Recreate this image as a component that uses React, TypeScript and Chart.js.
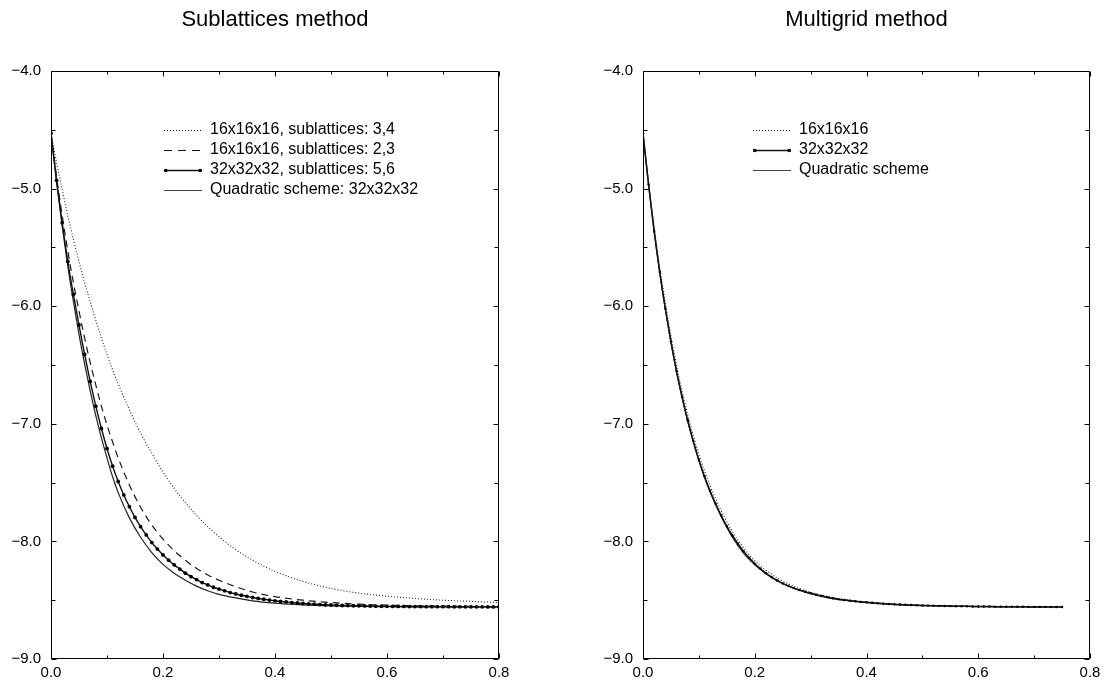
import React, { useEffect, useRef } from 'react';
import { Chart, registerables } from 'chart.js';

Chart.register(...registerables);

const FONT = '"Liberation Sans", Arial, Helvetica, sans-serif';

// ---------- texts ----------
const LEFT_TITLE = 'Sublattices method';
const RIGHT_TITLE = 'Multigrid method';
const LEFT_LABELS = [
  '16x16x16, sublattices: 3,4',
  '16x16x16, sublattices: 2,3',
  '32x32x32, sublattices: 5,6',
  'Quadratic scheme: 32x32x32',
];
const RIGHT_LABELS = ['16x16x16', '32x32x32', 'Quadratic scheme'];

// ---------- axes ----------
const X_MIN = 0;
const X_MAX = 0.8;
const Y_MIN = -9;
const Y_MAX = -4;
const X_TICK_MARKS = [0, 0.1, 0.2, 0.3, 0.4, 0.5, 0.6, 0.7, 0.8];
const Y_TICK_MARKS = [-9, -8.5, -8, -7.5, -7, -6.5, -6, -5.5, -5, -4.5, -4];

// ---------- left panel data ----------
const L_X_COARSE = [
  0, 0.01, 0.02, 0.03, 0.04, 0.05, 0.06, 0.07, 0.08, 0.09, 0.1, 0.11, 0.12,
  0.14, 0.16, 0.18, 0.2, 0.22, 0.24, 0.26, 0.28, 0.3, 0.33, 0.36, 0.4, 0.45,
  0.5, 0.55, 0.6, 0.65, 0.7, 0.75, 0.8,
];
const L_SUB34 = [
  -4.53, -4.78, -5.01, -5.23, -5.43, -5.62, -5.8, -5.96, -6.12, -6.27, -6.41, -6.54, -6.66,
  -6.88, -7.08, -7.25, -7.41, -7.55, -7.67, -7.78, -7.875, -7.96, -8.07, -8.16, -8.255, -8.34,
  -8.4, -8.44, -8.465, -8.485, -8.5, -8.51, -8.52,
];
const L_SUB23 = [
  -4.53, -4.9, -5.23, -5.53, -5.8, -6.04, -6.27, -6.48, -6.67, -6.85, -7.01, -7.155, -7.29,
  -7.52, -7.71, -7.86, -7.98, -8.08, -8.16, -8.23, -8.285, -8.33, -8.385, -8.43, -8.47, -8.5,
  -8.52, -8.534, -8.542, -8.547, -8.55, -8.553, -8.555,
];
const L_QUAD = [
  -4.53, -4.95, -5.32, -5.66, -5.96, -6.24, -6.49, -6.72, -6.93, -7.12, -7.29, -7.45, -7.585,
  -7.8, -7.965, -8.095, -8.195, -8.27, -8.33, -8.38, -8.42, -8.45, -8.48, -8.505, -8.525, -8.54,
  -8.548, -8.552, -8.555, -8.556, -8.557, -8.558, -8.558,
];
const L_X_FINE = [
  0, 0.01, 0.02, 0.03, 0.04, 0.05, 0.06, 0.07, 0.08, 0.09,
  0.1, 0.11, 0.12, 0.13, 0.14, 0.15, 0.16, 0.17, 0.18, 0.19,
  0.2, 0.21, 0.22, 0.23, 0.24, 0.25, 0.26, 0.27, 0.28, 0.29,
  0.3, 0.31, 0.32, 0.33, 0.34, 0.35, 0.36, 0.37, 0.38, 0.39,
  0.4, 0.41, 0.42, 0.43, 0.44, 0.45, 0.46, 0.47, 0.48, 0.49,
  0.5, 0.51, 0.52, 0.53, 0.54, 0.55, 0.56, 0.57, 0.58, 0.59,
  0.6, 0.61, 0.62, 0.63, 0.64, 0.65, 0.66, 0.67, 0.68, 0.69,
  0.7, 0.71, 0.72, 0.73, 0.74, 0.75, 0.76, 0.77, 0.78, 0.79,
  0.8,
];
const L_SUB56 = [
  -4.53, -4.93, -5.29, -5.62, -5.9, -6.16, -6.41, -6.64, -6.85, -7.04,
  -7.21, -7.36, -7.49, -7.605, -7.705, -7.795, -7.875, -7.945, -8.01, -8.065,
  -8.115, -8.16, -8.2, -8.235, -8.27, -8.3, -8.325, -8.35, -8.37, -8.39,
  -8.405, -8.42, -8.435, -8.447, -8.458, -8.468, -8.477, -8.485, -8.492, -8.499,
  -8.505, -8.51, -8.515, -8.52, -8.524, -8.528, -8.531, -8.534, -8.537, -8.539,
  -8.541, -8.543, -8.545, -8.546, -8.547, -8.548, -8.549, -8.55, -8.551, -8.552,
  -8.552, -8.553, -8.553, -8.553, -8.554, -8.554, -8.554, -8.555, -8.555, -8.555,
  -8.555, -8.555, -8.556, -8.556, -8.556, -8.556, -8.556, -8.556, -8.557, -8.557,
  -8.557,
];

// ---------- right panel data ----------
const R_X_COARSE = [
  0, 0.01, 0.02, 0.03, 0.04, 0.05, 0.06, 0.07, 0.08, 0.09, 0.1, 0.11, 0.12,
  0.14, 0.16, 0.18, 0.2, 0.22, 0.24, 0.26, 0.28, 0.3, 0.33, 0.36, 0.4, 0.45,
  0.5, 0.55, 0.6, 0.65, 0.7, 0.75,
];
const R_16 = [
  -4.53, -4.95, -5.33, -5.67, -5.97, -6.25, -6.5, -6.72, -6.92, -7.1, -7.26, -7.4, -7.525,
  -7.74, -7.915, -8.055, -8.165, -8.245, -8.31, -8.36, -8.4, -8.432, -8.467, -8.492, -8.515, -8.533,
  -8.543, -8.549, -8.552, -8.554, -8.555, -8.556,
];
const R_QUAD = [
  -4.53, -4.97, -5.37, -5.72, -6.03, -6.31, -6.56, -6.78, -6.98, -7.155, -7.315, -7.455, -7.58,
  -7.79, -7.965, -8.1, -8.2, -8.275, -8.335, -8.38, -8.415, -8.445, -8.478, -8.5, -8.52, -8.537,
  -8.546, -8.551, -8.554, -8.556, -8.557, -8.558,
];
const R_X_FINE = [
  0, 0.01, 0.02, 0.03, 0.04, 0.05, 0.06, 0.07, 0.08, 0.09,
  0.1, 0.11, 0.12, 0.13, 0.14, 0.15, 0.16, 0.17, 0.18, 0.19,
  0.2, 0.21, 0.22, 0.23, 0.24, 0.25, 0.26, 0.27, 0.28, 0.29,
  0.3, 0.31, 0.32, 0.33, 0.34, 0.35, 0.36, 0.37, 0.38, 0.39,
  0.4, 0.41, 0.42, 0.43, 0.44, 0.45, 0.46, 0.47, 0.48, 0.49,
  0.5, 0.51, 0.52, 0.53, 0.54, 0.55, 0.56, 0.57, 0.58, 0.59,
  0.6, 0.61, 0.62, 0.63, 0.64, 0.65, 0.66, 0.67, 0.68, 0.69,
  0.7, 0.71, 0.72, 0.73, 0.74, 0.75,
];
const R_32 = [
  -4.53, -4.965, -5.36, -5.71, -6.02, -6.3, -6.55, -6.77, -6.97, -7.145,
  -7.305, -7.445, -7.57, -7.68, -7.78, -7.87, -7.95, -8.02, -8.085, -8.14,
  -8.19, -8.232, -8.27, -8.303, -8.332, -8.357, -8.378, -8.397, -8.413, -8.428,
  -8.441, -8.453, -8.464, -8.474, -8.483, -8.491, -8.498, -8.504, -8.509, -8.514,
  -8.518, -8.522, -8.526, -8.529, -8.532, -8.535, -8.537, -8.539, -8.541, -8.543,
  -8.545, -8.546, -8.547, -8.548, -8.549, -8.55, -8.551, -8.552, -8.552, -8.553,
  -8.553, -8.554, -8.554, -8.555, -8.555, -8.555, -8.556, -8.556, -8.556, -8.557,
  -8.557, -8.557, -8.557, -8.558, -8.558, -8.558,
];

const toPoints = (xs: number[], ys: number[]) => xs.map((x, i) => ({ x, y: ys[i] }));

type SampleKind = 'dotted' | 'dashed' | 'solid' | 'markers';

function makeSample(kind: SampleKind, w: number, h: number): HTMLCanvasElement {
  const c = document.createElement('canvas');
  c.width = w;
  c.height = h;
  const g = c.getContext('2d')!;
  g.strokeStyle = kind === 'solid' ? '#444' : '#111';
  g.fillStyle = '#000';
  g.lineWidth = kind === 'markers' ? 1.3 : 1;
  const yy = Math.floor(h / 2) + 0.5;
  if (kind === 'dotted') g.setLineDash([1, 2]);
  if (kind === 'dashed') g.setLineDash([8, 6]);
  g.beginPath();
  g.moveTo(0, yy);
  g.lineTo(w, yy);
  g.stroke();
  if (kind === 'markers') {
    g.setLineDash([]);
    g.beginPath();
    g.arc(1.8, yy, 1.8, 0, Math.PI * 2);
    g.arc(w - 1.8, yy, 1.8, 0, Math.PI * 2);
    g.fill();
  }
  return c;
}

const framePlugin = {
  id: 'frameTicks',
  afterDatasetsDraw(chart: any) {
    const { ctx, chartArea: a, scales } = chart;
    const sx = scales.x;
    const sy = scales.y;
    ctx.save();
    ctx.strokeStyle = '#000';
    ctx.lineWidth = 1;
    const L = Math.round(a.left) + 0.5;
    const R = Math.round(a.right) - 0.5;
    const T = Math.round(a.top) + 0.5;
    const B = Math.round(a.bottom) - 0.5;
    ctx.beginPath();
    ctx.rect(L, T, R - L, B - T);
    ctx.stroke();
    ctx.beginPath();
    X_TICK_MARKS.forEach((v, i) => {
      const px = Math.round(sx.getPixelForValue(v)) + 0.5;
      const len = i % 2 === 0 ? 5 : 3;
      ctx.moveTo(px, B);
      ctx.lineTo(px, B - len);
      ctx.moveTo(px, T);
      ctx.lineTo(px, T + len);
    });
    Y_TICK_MARKS.forEach((v) => {
      const py = Math.round(sy.getPixelForValue(v)) + 0.5;
      const len = Number.isInteger(v) ? 5 : 4;
      ctx.moveTo(L, py);
      ctx.lineTo(L + len, py);
      ctx.moveTo(R, py);
      ctx.lineTo(R - len, py);
    });
    ctx.stroke();
    ctx.restore();
  },
};

const legendPosPlugin = {
  id: 'legendPos',
  afterLayout(chart: any, _args: any, opts: any) {
    const lg = chart.legend;
    if (!lg) return;
    const pad = chart.options.plugins.legend.labels.padding;
    const fs = chart.options.plugins.legend.labels.font.size;
    lg.left = opts.x - pad;
    lg.top = opts.y - fs / 2 - pad;
    lg.right = lg.left + lg.width;
    lg.bottom = lg.top + lg.height;
  },
};

function makeConfig(p: {
  title: string;
  datasets: any[];
  legendItems: { text: string; kind: SampleKind }[];
  yAxisWidth: number;
  padRight: number;
  legendX: number;
  legendY: number;
}): any {
  const samples = p.legendItems.map((it) => makeSample(it.kind, 38, 8));
  return {
    type: 'line',
    data: { datasets: p.datasets },
    plugins: [framePlugin, legendPosPlugin],
    options: {
      responsive: false,
      animation: false,
      events: [],
      layout: { padding: { left: 0, right: p.padRight, top: 0, bottom: 0 } },
      scales: {
        x: {
          type: 'linear',
          min: X_MIN,
          max: X_MAX,
          grid: { display: false, drawTicks: false },
          border: { display: false },
          ticks: {
            stepSize: 0.2,
            padding: 5,
            maxRotation: 0,
            autoSkip: false,
            color: '#000',
            font: { family: FONT, size: 15 },
            callback: (v: any) => Number(v).toFixed(1),
          },
          afterFit: (s: any) => {
            s.height = 23;
          },
        },
        y: {
          type: 'linear',
          min: Y_MIN,
          max: Y_MAX,
          grid: { display: false, drawTicks: false },
          border: { display: false },
          ticks: {
            stepSize: 1,
            padding: 10,
            color: '#000',
            font: { family: FONT, size: 15 },
            callback: (v: any) => {
              const n = Number(v);
              return (n < 0 ? '\u2212' : '') + Math.abs(n).toFixed(1);
            },
          },
          afterFit: (s: any) => {
            s.width = p.yAxisWidth;
          },
        },
      },
      plugins: {
        title: {
          display: true,
          text: p.title,
          color: '#000',
          fullSize: false,
          font: { family: FONT, size: 22, weight: 'normal' },
          padding: { top: 7, bottom: 37.6 },
        },
        legend: {
          display: true,
          position: 'chartArea',
          align: 'start',
          labels: {
            usePointStyle: true,
            pointStyleWidth: 38,
            boxHeight: 8,
            padding: 4,
            color: '#000',
            font: { family: FONT, size: 16 },
            generateLabels: () =>
              p.legendItems.map((it, i) => ({
                text: it.text,
                pointStyle: samples[i],
                fillStyle: '#000',
                strokeStyle: '#000',
                lineWidth: 1,
                hidden: false,
                datasetIndex: i,
                fontColor: '#000',
              })),
          },
        },
        legendPos: { x: p.legendX, y: p.legendY },
        tooltip: { enabled: false },
      },
    },
  };
}

const lineBase = {
  fill: false,
  cubicInterpolationMode: 'monotone',
  pointRadius: 0,
  borderWidth: 1.2,
  borderColor: '#1a1a1a',
};

export default function App() {
  const leftRef = useRef<HTMLCanvasElement>(null);
  const rightRef = useRef<HTMLCanvasElement>(null);

  useEffect(() => {
    Chart.defaults.font.family = FONT;
    const left = new Chart(
      leftRef.current!,
      makeConfig({
        title: LEFT_TITLE,
        yAxisWidth: 51,
        padRight: 56,
        legendX: 164,
        legendY: 130,
        legendItems: [
          { text: LEFT_LABELS[0], kind: 'dotted' },
          { text: LEFT_LABELS[1], kind: 'dashed' },
          { text: LEFT_LABELS[2], kind: 'markers' },
          { text: LEFT_LABELS[3], kind: 'solid' },
        ],
        datasets: [
          { ...lineBase, label: LEFT_LABELS[0], data: toPoints(L_X_COARSE, L_SUB34), borderDash: [1, 2], borderWidth: 1.1, borderColor: '#222' },
          { ...lineBase, label: LEFT_LABELS[1], data: toPoints(L_X_COARSE, L_SUB23), borderDash: [7, 5] },
          {
            ...lineBase,
            label: LEFT_LABELS[2],
            data: toPoints(L_X_FINE, L_SUB56),
            borderWidth: 1.4,
            borderColor: '#111',
            pointRadius: 1.9,
            pointBorderWidth: 0,
            pointBackgroundColor: '#000',
          },
          { ...lineBase, label: LEFT_LABELS[3], data: toPoints(L_X_COARSE, L_QUAD), borderColor: '#222' },
        ],
      })
    );
    const right = new Chart(
      rightRef.current!,
      makeConfig({
        title: RIGHT_TITLE,
        yAxisWidth: 88,
        padRight: 20,
        legendX: 198,
        legendY: 130,
        legendItems: [
          { text: RIGHT_LABELS[0], kind: 'dotted' },
          { text: RIGHT_LABELS[1], kind: 'markers' },
          { text: RIGHT_LABELS[2], kind: 'solid' },
        ],
        datasets: [
          { ...lineBase, label: RIGHT_LABELS[0], data: toPoints(R_X_COARSE, R_16), borderDash: [1, 2], borderWidth: 1.1, borderColor: '#222' },
          {
            ...lineBase,
            label: RIGHT_LABELS[1],
            data: toPoints(R_X_FINE, R_32),
            borderWidth: 1.5,
            borderColor: '#111',
            pointRadius: 1.2,
            pointBorderWidth: 0,
            pointBackgroundColor: '#000',
          },
          { ...lineBase, label: RIGHT_LABELS[2], data: toPoints(R_X_COARSE, R_QUAD), borderColor: '#222' },
        ],
      })
    );
    return () => {
      left.destroy();
      right.destroy();
    };
  }, []);

  return (
    <div style={{ position: 'absolute', left: 0, top: 0, width: 1110, height: 682, background: '#fff' }}>
      <canvas ref={leftRef} width={555} height={682} style={{ position: 'absolute', left: 0, top: 0 }} />
      <canvas ref={rightRef} width={555} height={682} style={{ position: 'absolute', left: 555, top: 0 }} />
    </div>
  );
}
